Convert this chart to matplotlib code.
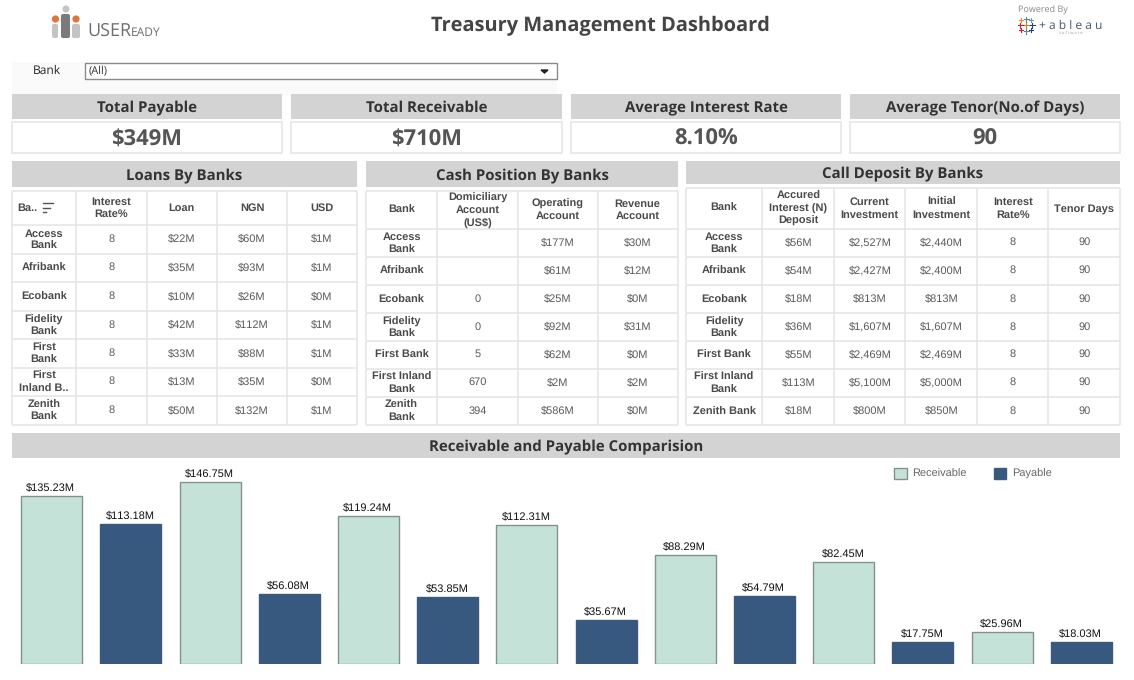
import matplotlib
matplotlib.use("Agg")
import matplotlib.pyplot as plt
from matplotlib.patches import Rectangle, FancyBboxPatch, Circle, Patch

HEAD_FONT = "Open Sans"
CELL_FONT = "Liberation Sans"
plt.rcParams["text.hinting"] = "no_hinting"
plt.rcParams["text.hinting_factor"] = 1

# =========================
# DATA
# =========================
kpi_titles = ["Total Payable", "Total Receivable", "Average Interest Rate", "Average Tenor(No.of Days)"]
kpi_values = ["$349M", "$710M", "8.10%", "90"]

loan_head = ["Ba..", "Interest\nRate%", "Loan", "NGN", "USD"]
loan_banks = ["Access\nBank", "Afribank", "Ecobank", "Fidelity\nBank", "First\nBank", "First\nInland B..", "Zenith\nBank"]
loan_rate = ["8", "8", "8", "8", "8", "8", "8"]
loan_loan = ["$22M", "$35M", "$10M", "$42M", "$33M", "$13M", "$50M"]
loan_ngn = ["$60M", "$93M", "$26M", "$112M", "$88M", "$35M", "$132M"]
loan_usd = ["$1M", "$1M", "$0M", "$1M", "$1M", "$0M", "$1M"]

cash_head = ["Bank", "Domiciliary\nAccount\n(US$)", "Operating\nAccount", "Revenue\nAccount"]
cash_banks = ["Access\nBank", "Afribank", "Ecobank", "Fidelity\nBank", "First Bank", "First Inland\nBank", "Zenith\nBank"]
cash_dom = ["", "", "0", "0", "5", "670", "394"]
cash_oper = ["$177M", "$61M", "$25M", "$92M", "$62M", "$2M", "$586M"]
cash_rev = ["$30M", "$12M", "$0M", "$31M", "$0M", "$2M", "$0M"]

call_head = ["Bank", "Accured\nInterest (N)\nDeposit", "Current\nInvestment", "Initial\nInvestment", "Interest\nRate%", "Tenor Days"]
call_banks = ["Access\nBank", "Afribank", "Ecobank", "Fidelity\nBank", "First Bank", "First Inland\nBank", "Zenith Bank"]
call_int = ["$56M", "$54M", "$18M", "$36M", "$55M", "$113M", "$18M"]
call_cur = ["$2,527M", "$2,427M", "$813M", "$1,607M", "$2,469M", "$5,100M", "$800M"]
call_init = ["$2,440M", "$2,400M", "$813M", "$1,607M", "$2,469M", "$5,000M", "$850M"]
call_rate = ["8", "8", "8", "8", "8", "8", "8"]
call_tenor = ["90", "90", "90", "90", "90", "90", "90"]

receivable = [135.23, 146.75, 119.24, 112.31, 88.29, 82.45, 25.96]
payable = [113.18, 56.08, 53.85, 35.67, 54.79, 17.75, 18.03]

# =========================
# LAYOUT (pixels)
# =========================
W, H = 1134, 680
fig = plt.figure(figsize=(W / 100, H / 100), dpi=100, facecolor="white")

bg = fig.add_axes([0, 0, 1, 1])
bg.set_xlim(0, W)
bg.set_ylim(H, 0)
bg.axis("off")

GREY = "#d3d3d3"
LINE = "#e6e6e6"


def title_bar(x0, x1, y0, y1, text, size=10.75):
    bg.add_patch(Rectangle((x0, y0), x1 - x0, y1 - y0, fc=GREY, ec="none"))
    bg.text((x0 + x1) / 2, (y0 + y1) / 2 + 6, text, ha="center", va="baseline",
            family=HEAD_FONT, weight="bold", fontsize=size, color="#333333")


def draw_table(xs, ys, head, first, cols):
    for x in xs:
        bg.plot([x, x], [ys[0], ys[-1]], color=LINE, lw=1.2, solid_capstyle="butt")
    for y in ys:
        bg.plot([xs[0], xs[-1]], [y, y], color=LINE, lw=1.2, solid_capstyle="butt")
    for i, t in enumerate(head):
        bg.text((xs[i] + xs[i + 1]) / 2, (ys[0] + ys[1]) / 2, t, ha="center", va="center",
                family=CELL_FONT, weight="bold", fontsize=7.7, color="#4a4a4a", linespacing=1.28)
    for r, t in enumerate(first):
        bg.text((xs[0] + xs[1]) / 2, (ys[r + 1] + ys[r + 2]) / 2 + 0.5, t, ha="center", va="center",
                family=CELL_FONT, weight="bold", fontsize=7.7, color="#4a4a4a", linespacing=1.28)
    for c, col in enumerate(cols):
        for r, t in enumerate(col):
            bg.text((xs[c + 1] + xs[c + 2]) / 2, (ys[r + 1] + ys[r + 2]) / 2 - 0.5, t, ha="center",
                    va="center", family=CELL_FONT, fontsize=7.7, color="#5a5a5a")


# =========================
# TOP
# =========================
bg.text(600, 31.5, "Treasury Management Dashboard", ha="center", va="baseline",
        family=HEAD_FONT, weight="bold", fontsize=14.4, color="#444444")

# useready logo
for x0, x1, y0, c in [(52, 58, 24, "#c4c4c4"), (61, 70, 14, "#7a7a7a"), (72, 80, 24, "#c4c4c4")]:
    bg.add_patch(FancyBboxPatch((x0 + 1, y0 + 1), x1 - x0 - 2, 38 - y0 - 2, boxstyle="round,pad=1,rounding_size=2",
                                fc=c, ec="none"))
bg.add_patch(Circle((66, 9), 3.5, fc="#c4c4c4", ec="none"))
bg.add_patch(Circle((55.5, 19), 3.6, fc="#e0763a", ec="none"))
bg.add_patch(Circle((76, 19), 3.6, fc="#e0763a", ec="none"))
bg.text(87, 31, "USER", ha="left", va="center", family="Open Sans", fontsize=12.8, color="#6d6d6d")
bg.text(131, 32.5, "EADY", ha="left", va="center", family="Open Sans", fontsize=8.8, color="#6d6d6d")

# tableau logo
bg.text(1018, 10.5, "Powered By", ha="left", va="center", family="Open Sans", fontsize=6.2, color="#888888")
plus = [(1026, 25, 4, "#e8762b"), (1026, 19, 2.5, "#5b879b"), (1026, 31, 2.5, "#59879b"), (1020, 25, 2.5, "#c72035"),
        (1032, 25, 2.5, "#1f447b"), (1021, 20, 2, "#eb912b"), (1031, 20, 2, "#7099a6"), (1021, 30, 2, "#c72035"),
        (1031, 30, 2, "#1f447b")]
for x, y, s, c in plus:
    bg.plot([x - s, x + s], [y, y], color=c, lw=0.8)
    bg.plot([x, x], [y - s, y + s], color=c, lw=0.8)
bg.text(1071, 26, "+ a b l e a u", ha="center", va="center", family="Open Sans", fontsize=8.8, color="#44576f")
bg.text(1071, 33, "s o f t w a r e", ha="center", va="center", family="Open Sans", fontsize=3, color="#999999")

# filter
bg.add_patch(Rectangle((12, 62), 545, 34, fc="#fafafa", ec="none"))
bg.text(47, 71, "Bank", ha="center", va="center", family="Open Sans", fontsize=8.6, color="#222222")
bg.add_patch(Rectangle((85, 63), 472, 16, fc="white", ec="#8a8a8a", lw=1))
bg.text(88.5, 71.5, "(All)", ha="left", va="center", family="Open Sans", fontsize=7.6, color="#333333")
bg.fill([541, 548, 544.5], [70, 70, 73], color="#222222")

# kpi
kpi_x = [(12, 282), (291, 562), (571, 841), (850, 1120)]
for (x0, x1), t, v in zip(kpi_x, kpi_titles, kpi_values):
    title_bar(x0, x1, 94, 118.5, t, size=10.95)
    bg.add_patch(Rectangle((x0, 122), x1 - x0, 31, fc="white", ec=LINE, lw=1.2))
    bg.text((x0 + x1) / 2, 145, v, ha="center", va="baseline", family=HEAD_FONT, weight="bold",
            fontsize=15.5, color="#555555")

# =========================
# TABLES
# =========================
title_bar(12, 357, 161, 187, "Loans By Banks")
draw_table([12, 75.7, 146.7, 216.7, 287.3, 356.7],
           [191, 225, 253.7, 282.3, 311, 339.3, 367.7, 396.3, 425],
           [""] + loan_head[1:], loan_banks, [loan_rate, loan_loan, loan_ngn, loan_usd])
bg.text(17, 208, loan_head[0], ha="left", va="center", family=CELL_FONT, weight="bold",
        fontsize=7.7, color="#4a4a4a")
for y, x1 in [(203, 53), (207.5, 50), (212, 46)]:
    bg.plot([43, x1], [y, y], color="#555555", lw=1)

title_bar(366, 678, 161, 187, "Cash Position By Banks")
draw_table([366, 437.3, 517.7, 597.7, 677.7],
           [191, 229, 256.7, 285.3, 313.3, 341, 368.7, 397.3, 425],
           cash_head, cash_banks, [cash_dom, cash_oper, cash_rev])

title_bar(686, 1120, 161, 184, "Call Deposit By Banks")
draw_table([686, 762.3, 834.3, 905.3, 977.3, 1048.3, 1120],
           [188, 229, 256.7, 285.3, 313.3, 341, 368.7, 397.3, 425],
           call_head, call_banks, [call_int, call_cur, call_init, call_rate, call_tenor])

# =========================
# BARS
# =========================
title_bar(12, 1120, 433, 458, "Receivable and Payable Comparision")

ax = fig.add_axes([12 / W, (H - 664) / H, (1121 - 12) / W, (664 - 460) / H])
ax.patch.set_alpha(0)
pos_r = [i * 2 for i in range(len(receivable))]
pos_p = [i * 2 + 1 for i in range(len(payable))]
bars_r = ax.bar(pos_r, receivable, width=0.77, color="#c5e2d8", edgecolor="#84918d", linewidth=1)
bars_p = ax.bar(pos_p, payable, width=0.77, color="#37587f", edgecolor="#3f5a7c", linewidth=1)
for bars in (bars_r, bars_p):
    labels = ax.bar_label(bars, fmt="${:.2f}M", padding=2.5, fontsize=7.7, family=CELL_FONT, color="#111111")
    for lab in labels:
        lab.xyann = (-0.6, 2.5)
ax.set_xlim(-0.5, 13.5)
ax.set_ylim(0, 164.5)
ax.axis("off")

handles = [Patch(fc="#c5e2d8", ec="#84918d", lw=1, label="Receivable"),
           Patch(fc="#37587f", ec="#3f5a7c", lw=1, label="Payable")]
fig.legend(handles=handles, ncol=2, frameon=False, labelcolor="#666666",
           prop={"family": CELL_FONT, "size": 7.6}, handlelength=1.2, handleheight=1.2,
           handletextpad=0.5, columnspacing=2.6, borderpad=0, borderaxespad=0,
           loc="center left", bbox_to_anchor=(894 / W, (H - 473.5) / H))

fig.savefig("out.png", dpi=100, facecolor="white")
